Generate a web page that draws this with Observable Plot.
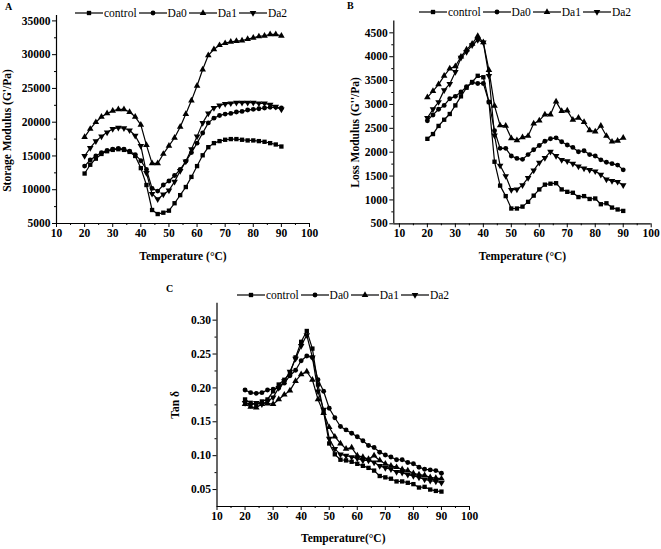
<!DOCTYPE html>
<html><head><meta charset="utf-8">
<script src="https://cdn.jsdelivr.net/npm/d3@7"></script>
<script src="https://cdn.jsdelivr.net/npm/@observablehq/plot@0.6"></script>
<style>
body{margin:0;background:#fff;}
#fig{position:relative;width:661px;height:549px;background:#fff;font-family:"Liberation Serif","Times New Roman",serif;color:#000;overflow:hidden;}
.panel{position:absolute;}
.panel svg{display:block;}
.legend{position:absolute;display:flex;align-items:center;font-size:11.5px;line-height:10px;white-space:nowrap;}
.legend .item{display:flex;align-items:center;margin-right:2px;}
.legend svg{display:block;margin-right:1px;}
.letter{position:absolute;font-weight:bold;font-size:10px;line-height:10px;}
</style></head><body><div id="fig"></div><script>
const temps = [20,22,24,26,28,30,32,34,36,38,40,42,44,46,48,50,52,54,56,58,60,62,64,66,68,70,72,74,76,78,80,82,84,86,88,90];
const seriesNames = ["control","Da0","Da1","Da2"];

// Panel A: Storage modulus G' (Pa)
const aControl = [12400,13700,14600,15300,15700,15900,16000,15900,15600,15000,13200,10700,7000,6400,6600,6900,8000,9200,10400,11900,13500,15100,16300,16900,17200,17400,17500,17500,17400,17300,17300,17200,17100,16900,16700,16400];
const aDa0 = [13500,14400,15000,15500,15800,16000,16100,16000,15700,15200,14300,13000,10200,9800,10700,11300,12100,13000,14200,15500,16900,18400,19900,20600,21000,21200,21300,21500,21600,21800,21900,22000,22100,22200,22200,22100];
const aDa1 = [17800,19000,20000,20800,21300,21700,21900,21900,21500,20800,19600,16600,13900,13900,15300,16500,17700,19300,21200,23200,25400,27800,29900,30800,31400,31700,31900,32000,32100,32300,32500,32700,32800,33000,33000,32800];
const aDa2 = [15000,16200,17200,17900,18500,19000,19200,19100,18800,18000,16500,12500,9400,8600,9300,9900,11200,12800,14200,16000,17900,19900,21300,22100,22500,22700,22800,22900,22900,22900,22900,22800,22800,22600,22300,21900];

// Panel B: Loss modulus G'' (Pa)
const bControl = [2280,2380,2550,2680,2800,2980,3170,3350,3470,3600,3570,3050,1800,1300,1080,820,820,860,960,1090,1220,1320,1340,1350,1220,1170,1150,1060,1080,1020,1030,910,930,840,800,770];
const bDa0 = [2660,2780,2900,2980,3120,3170,3260,3370,3460,3440,3440,3050,2450,2080,2080,1920,1870,1850,1950,2050,2140,2230,2280,2300,2220,2150,2100,2010,2030,1950,1920,1840,1790,1760,1730,1630];
const bDa1 = [3150,3280,3420,3600,3750,3800,4000,4150,4270,4430,4300,3720,2970,2560,2550,2290,2250,2310,2340,2600,2660,2790,2790,3060,2860,2870,2680,2720,2630,2460,2430,2550,2340,2220,2240,2300];
const bDa2 = [2720,2900,3050,3300,3430,3680,3980,4100,4240,4350,4300,3600,2350,1720,1500,1210,1220,1310,1460,1620,1780,1880,2010,1920,1840,1810,1760,1700,1660,1630,1600,1530,1430,1400,1380,1310];

// Panel C: Tan delta
const cControl = [0.183,0.178,0.175,0.180,0.183,0.195,0.205,0.212,0.222,0.245,0.268,0.284,0.258,0.205,0.165,0.118,0.102,0.094,0.093,0.091,0.088,0.085,0.082,0.078,0.070,0.068,0.066,0.062,0.062,0.060,0.058,0.053,0.054,0.050,0.048,0.047];
const cDa0 = [0.197,0.193,0.192,0.193,0.197,0.198,0.200,0.207,0.218,0.226,0.240,0.247,0.245,0.212,0.195,0.170,0.156,0.143,0.138,0.133,0.128,0.122,0.115,0.112,0.105,0.101,0.098,0.094,0.094,0.090,0.088,0.083,0.080,0.079,0.078,0.074];
const cDa1 = [0.176,0.172,0.171,0.176,0.177,0.176,0.183,0.190,0.196,0.210,0.220,0.224,0.212,0.183,0.163,0.142,0.128,0.118,0.110,0.112,0.100,0.098,0.095,0.100,0.093,0.088,0.085,0.083,0.080,0.078,0.074,0.072,0.071,0.068,0.067,0.066];
const cDa2 = [0.178,0.175,0.178,0.176,0.180,0.186,0.200,0.210,0.224,0.243,0.262,0.278,0.245,0.195,0.168,0.125,0.110,0.102,0.100,0.098,0.096,0.093,0.093,0.090,0.085,0.082,0.080,0.076,0.075,0.072,0.070,0.068,0.065,0.063,0.062,0.060];

// Tick values
const xMajor = [10,20,30,40,50,60,70,80,90,100];
const xMinor = [15,25,35,45,55,65,75,85,95];
const aYMajor = [5000,10000,15000,20000,25000,30000,35000];
const aYMinor = [7500,12500,17500,22500,27500,32500];
const bYMajor = [500,1000,1500,2000,2500,3000,3500,4000,4500];
const bYMinor = [750,1250,1750,2250,2750,3250,3750,4250];
const cYMajor = [0.05,0.10,0.15,0.20,0.25,0.30];
const cYMinor = [0.075,0.125,0.175,0.225,0.275];

const triangleDown = {
  draw(context, size) {
    const s3 = Math.sqrt(3);
    const y = -Math.sqrt(size / (s3 * 3));
    context.moveTo(0, -y * 2);
    context.lineTo(-s3 * y, y);
    context.lineTo(s3 * y, y);
    context.closePath();
  }
};
const symbolRange = [d3.symbolSquare, d3.symbolCircle, d3.symbolTriangle, triangleDown];
const R = 2.45;

function tidy(arrays) {
  return arrays.flatMap((vals, i) => vals.map((v, j) => ({series: seriesNames[i], t: temps[j], v})));
}

const fig = document.getElementById("fig");

function panel(cfg) {
  const data = tidy(cfg.series);
  const p = Plot.plot({
    width: cfg.width, height: cfg.height,
    marginLeft: cfg.ml, marginRight: cfg.mr, marginTop: cfg.mt, marginBottom: cfg.mb,
    x: {domain: cfg.xDomain},
    y: {domain: cfg.yDomain},
    symbol: {domain: seriesNames, range: symbolRange},
    style: {fontFamily: "'Liberation Serif','Times New Roman',serif", fontSize: "11px", fontWeight: "bold", background: "white", color: "black", overflow: "visible"},
    marks: [
      Plot.axisX({ticks: xMajor, tickSize: 4, tickPadding: 1, tickFormat: d => String(d), label: null, fontSize: 11.5}),
      Plot.axisX({ticks: xMinor, tickSize: 2, tickFormat: () => "", label: null}),
      Plot.axisY({ticks: cfg.yMajor, tickSize: 4, tickPadding: 2, tickFormat: cfg.yFormat, label: null, fontSize: 11.5}),
      Plot.axisY({ticks: cfg.yMinor, tickSize: 2, tickFormat: () => "", label: null}),
      Plot.ruleX([cfg.xDomain[0]], {stroke: "black", strokeWidth: 1.2}),
      Plot.ruleY([cfg.yDomain[0]], {stroke: "black", strokeWidth: 1.2}),
      Plot.line(data, {x: "t", y: "v", z: "series", stroke: "black", strokeWidth: 1.2}),
      Plot.dot(data, {x: "t", y: "v", symbol: "series", fill: "black", stroke: "none", r: R}),
      Plot.text([cfg.xTitle], {text: d => d, frameAnchor: "bottom", dy: cfg.xTitleDy, lineAnchor: "middle", fontWeight: "bold", fontSize: 11.5}),
      Plot.text([cfg.yTitle], {text: d => d, frameAnchor: "left", rotate: -90, dx: cfg.yTitleDx, dy: cfg.yTitleDy, textAnchor: "middle", lineAnchor: "middle", fontWeight: "bold", fontSize: 11.5})
    ]
  });
  const div = document.createElement("div");
  div.className = "panel";
  div.style.left = cfg.left + "px";
  div.style.top = cfg.top + "px";
  div.append(p);
  fig.append(div);
}

function legend(left, top) {
  const div = document.createElement("div");
  div.className = "legend";
  div.style.left = left + "px";
  div.style.top = top + "px";
  seriesNames.forEach((name, i) => {
    const item = document.createElement("span");
    item.className = "item";
    const svg = d3.create("svg").attr("width", 28).attr("height", 10);
    svg.append("line").attr("x1", 0).attr("x2", 28).attr("y1", 5).attr("y2", 5).attr("stroke", "black").attr("stroke-width", 1.2);
    svg.append("path").attr("transform", "translate(14,5)").attr("fill", "black")
      .attr("d", d3.symbol(symbolRange[i], Math.PI * R * R)());
    item.append(svg.node());
    const t = document.createElement("span");
    t.textContent = name;
    item.append(t);
    div.append(item);
  });
  fig.append(div);
}

function letter(txt, left, top) {
  const d = document.createElement("div");
  d.className = "letter";
  d.style.left = left + "px";
  d.style.top = top + "px";
  d.textContent = txt;
  fig.append(d);
}

panel({
  left: 0, top: 0, width: 330, height: 270, ml: 56, mr: 21, mt: 15, mb: 47,
  xDomain: [10, 100], yDomain: [5000, 35800],
  yMajor: aYMajor, yMinor: aYMinor, yFormat: d => String(d),
  series: [aControl, aDa0, aDa1, aDa2],
  xTitle: "Temperature (°C)", xTitleDy: 33,
  yTitle: "Storage Modulus (G'/Pa)", yTitleDx: -49, yTitleDy: 11
});
panel({
  left: 330, top: 0, width: 331, height: 270, ml: 63.3, mr: 10.3, mt: 20.4, mb: 46.7,
  xDomain: [8, 100], yDomain: [500, 4750],
  yMajor: bYMajor, yMinor: bYMinor, yFormat: d => String(d),
  series: [bControl, bDa0, bDa1, bDa2],
  xTitle: "Temperature (°C)", xTitleDy: 33,
  yTitle: "Loss Modulus (G''/Pa)", yTitleDx: -38, yTitleDy: 10
});
panel({
  left: 160, top: 280, width: 340, height: 269, ml: 56.5, mr: 31, mt: 22.7, mb: 43,
  xDomain: [10, 100], yDomain: [0.025, 0.325],
  yMajor: cYMajor, yMinor: cYMinor, yFormat: d3.format(".2f"),
  series: [cControl, cDa0, cDa1, cDa2],
  xTitle: "Temperature(°C)", xTitleDy: 32,
  yTitle: "Tan δ", yTitleDx: -41.5, yTitleDy: 0
});

legend(75, 7.7);
legend(419, 6.7);
legend(237, 290);

letter("A", 5, 2);
letter("B", 347, 1);
letter("C", 166, 284);
</script></body></html>
